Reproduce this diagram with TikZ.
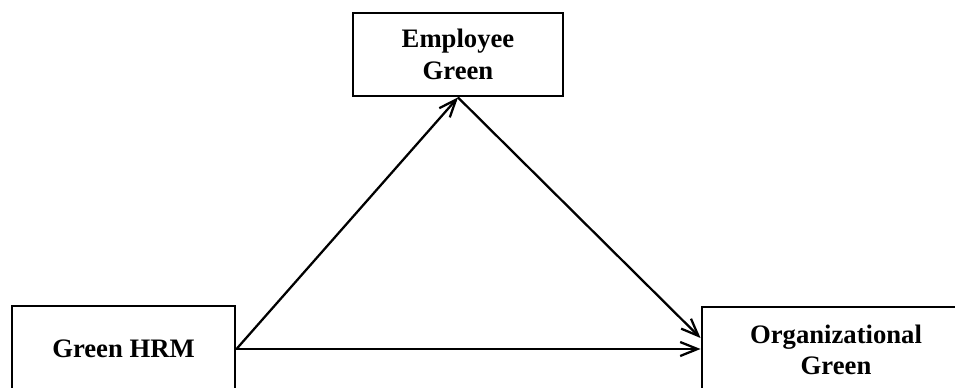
\documentclass[tikz,border=0pt]{standalone}
\usepackage{fontspec}
\setmainfont{Liberation Serif}
\usetikzlibrary{arrows.meta}
\begin{document}
\begin{tikzpicture}[x=0.75pt,y=-0.75pt,
  box/.style={draw=black,line width=2.2pt,fill=white,align=center,
    font=\bfseries\fontsize{20}{23.5}\selectfont,inner sep=0pt},
  link/.style={draw=black,line width=1.7pt,
    -{Straight Barb[length=13pt,width=10.5pt,line width=1.7pt]}}]
\useasboundingbox (0,0) rectangle (955,387);
\clip (0,0) rectangle (955,387);
% three construct boxes
\node[box,minimum width=210*0.75pt,minimum height=83*0.75pt] (emp) at (458,54.5) {Employee\\Green};
\node[box,minimum width=223*0.75pt,minimum height=86*0.75pt] (hrm) at (123.5,349) {Green HRM};
\node[box,minimum width=268*0.75pt,minimum height=86*0.75pt] (org) at (836,350) {Organizational\\Green};
% paths between the constructs
\draw[link] (hrm.east) -- (emp.south);
\draw[link] (emp.south) -- ([yshift=9pt]org.west);
\draw[link] (hrm.east) -- (hrm.east -| org.west);
\end{tikzpicture}
\end{document}
